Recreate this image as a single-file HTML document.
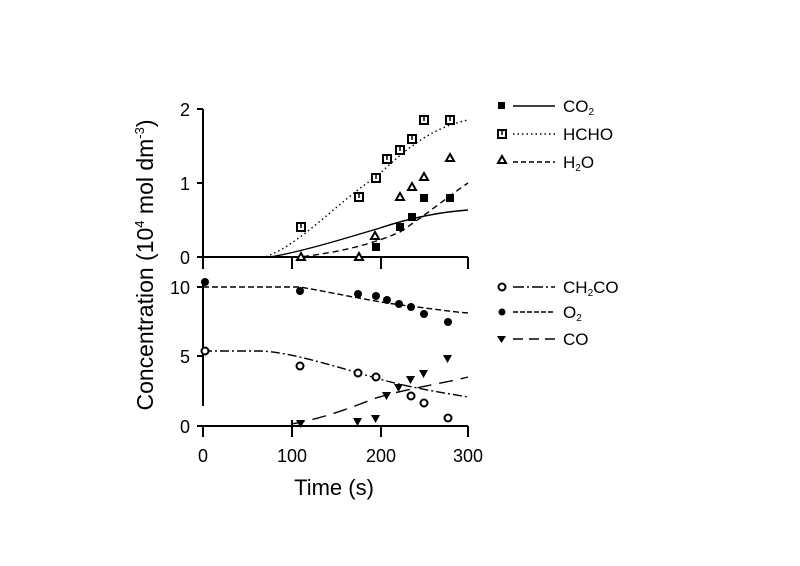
<!DOCTYPE html>
<html><head><style>body{margin:0;background:#fff}svg{display:block}text{font-family:"Liberation Sans",sans-serif;fill:#000}</style></head><body>
<svg width="800" height="566" viewBox="0 0 800 566" xmlns="http://www.w3.org/2000/svg">
<g stroke="#000" stroke-width="2" fill="none">
<line x1="203" y1="109" x2="203" y2="269"/>
<line x1="197" y1="109" x2="203" y2="109"/><line x1="197" y1="183" x2="203" y2="183"/><line x1="197" y1="257" x2="203" y2="257"/>
<line x1="203" y1="257" x2="468" y2="257"/>
<line x1="292" y1="257" x2="292" y2="269"/><line x1="381" y1="257" x2="381" y2="269"/><line x1="468" y1="257" x2="468" y2="269"/>
<line x1="203" y1="283" x2="203" y2="406"/>
<line x1="197" y1="287" x2="203" y2="287"/><line x1="197" y1="356" x2="203" y2="356"/><line x1="197" y1="426" x2="203" y2="426"/>
<line x1="203" y1="426" x2="468" y2="426"/>
<line x1="203" y1="426" x2="203" y2="437"/><line x1="292" y1="420" x2="292" y2="437"/><line x1="381" y1="426" x2="381" y2="437"/><line x1="468" y1="426" x2="468" y2="437"/>
</g>
<g font-size="18" text-anchor="end">
<text x="190" y="116">2</text><text x="190" y="190">1</text><text x="190" y="264">0</text>
<text x="190" y="294">10</text><text x="190" y="363">5</text><text x="190" y="433">0</text>
</g>
<g font-size="18" text-anchor="middle">
<text x="203" y="462">0</text><text x="292" y="462">100</text><text x="381" y="462">200</text><text x="468" y="462">300</text>
</g>
<text x="334" y="495" font-size="22" text-anchor="middle">Time (s)</text>
<text transform="translate(153,265) rotate(-90)" font-size="23" text-anchor="middle">Concentration  (10<tspan font-size="13" dy="-9">4</tspan><tspan dy="9"> mol dm</tspan><tspan font-size="13" dy="-9">-3</tspan><tspan dy="9">)</tspan></text>
<g fill="none" stroke="#000" stroke-width="1.4">
<path d="M203,257 L265,257 C300,245 340,200 376,177 C405,150 430,128 468,120" stroke-dasharray="1.5,3"/>
<path d="M203,257 L270,257 C300,252 340,240 380,228 C410,218 440,212 468,210"/>
<path d="M203,257 L300,257 C340,252 370,245 400,232 C430,212 450,195 468,183" stroke-dasharray="6,4"/>
<path d="M203,287 L300,287 C340,294 380,303 410,306 C440,310 455,312 468,313" stroke-dasharray="6,3"/>
<path d="M203,351 L260,351 C290,352 330,365 376,378 C410,388 445,393 468,397" stroke-dasharray="9,3,2,3"/>
<path d="M203,426 L280,426 C320,420 350,408 376,398 C410,388 440,384 468,377" stroke-dasharray="14,8"/>
</g>
<g fill="#fff" stroke="#000" stroke-width="2">
<rect x="297" y="223" width="8" height="8"/><rect x="355" y="193" width="8" height="8"/><rect x="372" y="174" width="8" height="8"/><rect x="383" y="155" width="8" height="8"/><rect x="396" y="146" width="8" height="8"/><rect x="408" y="135" width="8" height="8"/><rect x="420" y="116" width="8" height="8"/><rect x="446" y="116" width="8" height="8"/>
<path d="M301,253 l4,7 h-8z M359,253 l4,7 h-8z M375,232 l4,7 h-8z M400,193 l4,7 h-8z M412,183 l4,7 h-8z M424,173 l4,7 h-8z M450,154 l4,7 h-8z"/>
<circle cx="205" cy="351" r="3.5"/><circle cx="300" cy="366" r="3.5"/><circle cx="358" cy="373" r="3.5"/><circle cx="376" cy="377" r="3.5"/><circle cx="411" cy="396" r="3.5"/><circle cx="424" cy="403" r="3.5"/><circle cx="448" cy="418" r="3.5"/>
<rect x="498" y="130" width="8" height="8"/>
<path d="M502,156 l4,7 h-8z"/>
<circle cx="502" cy="287" r="3.5"/>
</g>
<g stroke="#000" stroke-width="1.5">
<path d="M301,224v4 M359,194v4 M376,175v4 M387,156v4 M400,147v4 M412,136v4 M424,117v4 M450,117v4 M502,131v4"/>
</g>
<g fill="#000">
<rect x="372" y="243" width="8" height="8"/><rect x="396" y="223" width="8" height="8"/><rect x="408" y="213" width="8" height="8"/><rect x="420" y="194" width="8" height="8"/><rect x="446" y="194" width="8" height="8"/>
<circle cx="205" cy="282" r="4"/><circle cx="300" cy="291" r="4"/><circle cx="358" cy="294" r="4"/><circle cx="376" cy="296" r="4"/><circle cx="387" cy="300" r="4"/><circle cx="399" cy="304" r="4"/><circle cx="411" cy="307" r="4"/><circle cx="424" cy="314" r="4"/><circle cx="448" cy="322" r="4"/>
<path d="M296,420 h9 l-4.5,8z M353,418 h9 l-4.5,8z M371,415 h9 l-4.5,8z M382,392 h9 l-4.5,8z M394,384 h9 l-4.5,8z M406,376 h9 l-4.5,8z M419,370 h9 l-4.5,8z M443,355 h9 l-4.5,8z"/>
<rect x="498" y="102" width="7" height="7"/>
<circle cx="502" cy="312" r="3.5"/>
<path d="M497,336 h9 l-4.5,7z"/>
</g>
<g stroke="#000" stroke-width="1.4" fill="none">
<line x1="513" y1="106" x2="555" y2="106"/>
<line x1="513" y1="134" x2="555" y2="134" stroke-dasharray="1.5,3"/>
<line x1="513" y1="162" x2="555" y2="162" stroke-dasharray="5,3"/>
<line x1="513" y1="287" x2="555" y2="287" stroke-dasharray="11,3,2,3"/>
<line x1="513" y1="312" x2="555" y2="312" stroke-dasharray="5,2"/>
<line x1="513" y1="339" x2="555" y2="339" stroke-dasharray="10,6"/>
</g>
<g font-size="17">
<text x="563" y="112">CO<tspan font-size="10" dy="3">2</tspan></text>
<text x="563" y="140">HCHO</text>
<text x="563" y="168">H<tspan font-size="10" dy="3">2</tspan><tspan dy="-3">O</tspan></text>
<text x="563" y="293">CH<tspan font-size="10" dy="3">2</tspan><tspan dy="-3">CO</tspan></text>
<text x="563" y="318">O<tspan font-size="10" dy="3">2</tspan></text>
<text x="563" y="345">CO</text>
</g>
</svg>
</body></html>
